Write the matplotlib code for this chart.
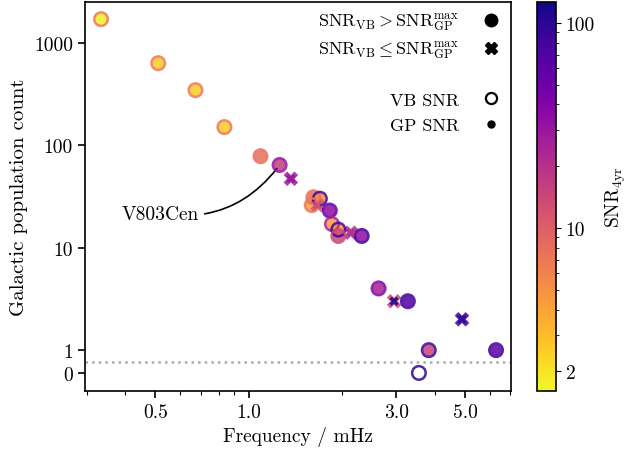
import numpy as np
import matplotlib
matplotlib.use("Agg")
import matplotlib.pyplot as plt
from matplotlib.colors import LogNorm
from matplotlib.lines import Line2D
from matplotlib.ticker import FixedLocator, FixedFormatter, NullFormatter

plt.rcParams['font.family'] = 'serif'
plt.rcParams['font.serif'] = ['cmr10', 'DejaVu Serif']
plt.rcParams['mathtext.fontset'] = 'cm'
plt.rcParams['axes.formatter.use_mathtext'] = True
plt.rcParams['font.size'] = 14

# frequency (mHz), galactic population count, VB SNR, GP SNR
freq = [0.334, 0.511, 0.674, 0.836, 1.093, 1.26, 1.62, 1.70, 1.60, 1.83,
        1.86, 1.95, 1.95, 2.32, 2.63, 3.27, 3.82, 6.3, 3.55]
count = [1695, 630, 344, 150, 78, 64, 31, 30, 26, 23,
         17, 15, 13, 13, 4, 3, 1, 1, 0]
snr_vb = [7, 7, 7, 7, 8, 32, 8, 85, 7, 60,
          25, 80, 14, 90, 40, 80, 90, 80, 100]
snr_gp = [1.8, 2.6, 2.6, 2.6, 8, 17, 8, 5, 4.5, 35,
          4.5, 4.5, 14, 35, 25, 70, 15, 60, np.nan]

# VB SNR <= max GP SNR (cross markers)
freq_x = [1.37, 1.67, 2.14, 2.95, 4.89]
count_x = [47, 26, 14, 3, 2]
snr_vb_x = [28, 12, 20, 14, 90]
snr_gp_x = [30, 13, 21, 110, 95]

xticks = [0.5, 1.0, 3.0, 5.0]
yticks = [0, 1, 10, 100, 1000]

cmap = plt.get_cmap('plasma_r')
norm = LogNorm(vmin=1.6, vmax=126)

fig = plt.figure(figsize=(6.28, 4.56), dpi=100)
ax = fig.add_axes([0.135, 0.140, 0.679, 0.853])
cax = fig.add_axes([0.855, 0.140, 0.030, 0.853])

ax.set_xscale('log')
ax.set_yscale('symlog', linthresh=1, linscale=0.2)

gp = np.array(snr_gp)
ok = ~np.isnan(gp)
ax.scatter(np.array(freq)[ok], np.array(count)[ok], c=gp[ok], cmap=cmap, norm=norm,
           s=75, marker='o', edgecolors='none', alpha=0.85, zorder=3)
ax.scatter(freq, count, facecolors='none', edgecolors=cmap(norm(snr_vb)),
           s=95, marker='o', linewidths=1.8, alpha=0.85, zorder=4)

ax.scatter(freq_x, count_x, c=snr_vb_x, cmap=cmap, norm=norm,
           s=110, marker='X', edgecolors='none', alpha=0.85, zorder=3)
ax.scatter(freq_x, count_x, c=snr_gp_x, cmap=cmap, norm=norm,
           s=45, marker='X', edgecolors='none', alpha=0.9, zorder=4)

ax.axhline(0.5, color='#aaaaaa', ls=':', lw=1.8, zorder=1)

ax.annotate('V803Cen', xy=(1.25, 62), xytext=(0.52, 21.5),
            ha='center', va='center', fontsize=14,
            arrowprops=dict(arrowstyle='-', color='k', lw=1.2,
                            shrinkA=2, shrinkB=2,
                            connectionstyle='arc3,rad=0.3'))

ax.set_xlim(0.296, 7.05)
ax.set_ylim(-0.8, 2480)
ax.xaxis.set_major_locator(FixedLocator(xticks))
ax.xaxis.set_major_formatter(FixedFormatter([f'{t:.1f}' for t in xticks]))
ax.xaxis.set_minor_formatter(NullFormatter())
ax.yaxis.set_major_locator(FixedLocator(yticks))
ax.yaxis.set_major_formatter(FixedFormatter([str(t) for t in yticks]))
ax.yaxis.set_minor_locator(FixedLocator([]))
ax.tick_params(which='major', length=5, width=1.2)
ax.tick_params(which='minor', length=3, width=0.8)
for sp in ax.spines.values():
    sp.set_linewidth(1.2)

ax.set_xlabel('Frequency / mHz')
ax.set_ylabel('Galactic population count', fontsize=15)

h_cond = [Line2D([], [], ls='none', marker='o', color='k', markersize=9),
          Line2D([], [], ls='none', marker='X', color='k', markersize=9)]
l_cond = [r'$\mathrm{SNR_{VB}} > \mathrm{SNR_{GP}^{max}}$',
          r'$\mathrm{SNR_{VB}} \leq \mathrm{SNR_{GP}^{max}}$']
leg1 = ax.legend(h_cond, l_cond, loc='upper right', frameon=False, markerfirst=False,
                 handlelength=1.2, handletextpad=1.2, labelspacing=0.3,
                 borderaxespad=0.1, fontsize=13)
ax.add_artist(leg1)

h_kind = [Line2D([], [], ls='none', marker='o', mfc='none', mec='k', mew=1.6, markersize=8),
          Line2D([], [], ls='none', marker='o', color='k', markersize=5)]
l_kind = ['VB SNR', 'GP SNR']
ax.legend(h_kind, l_kind, loc='upper right', bbox_to_anchor=(1.0, 0.792),
          frameon=False, markerfirst=False, handlelength=1.2, handletextpad=1.2,
          labelspacing=0.55, borderaxespad=0.1, fontsize=13)

sm = plt.cm.ScalarMappable(norm=norm, cmap=cmap)
cb = fig.colorbar(sm, cax=cax)
cb.set_ticks([2, 10, 100])
cb.set_ticklabels(['2', '10', '100'])
cb.ax.minorticks_on()
cb.set_label(r'$\mathrm{SNR_{4yr}}$', fontsize=14, labelpad=6)
cb.outline.set_linewidth(1.2)

fig.savefig('out.png', dpi=100)
